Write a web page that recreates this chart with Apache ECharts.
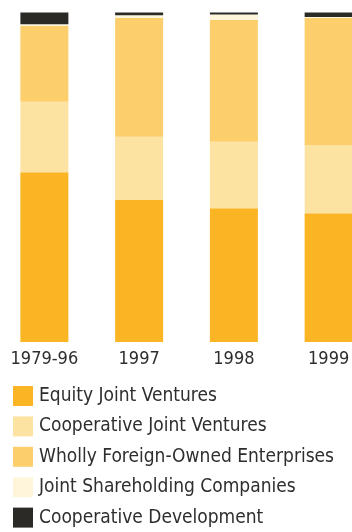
<!DOCTYPE html>
<html>
<head>
<meta charset="utf-8">
<style>
  html, body { margin: 0; padding: 0; background: #ffffff; overflow: hidden; }
  #chart { position: absolute; left: -3px; top: 0; width: 379px; height: 532px; }
</style>
<script src="https://cdn.jsdelivr.net/npm/echarts@6/dist/echarts.min.js"></script>
</head>
<body>
<div id="chart"></div>
<script>
// Share of foreign investment by type of enterprise (%)
const periods = ['1979-96', '1997', '1998', '1999'];

const equityJV          = [51.5, 43.1, 40.6, 39.1];
const cooperativeJV     = [21.4, 19.2, 20.2, 20.5];
const whollyForeign     = [23.0, 36.0, 36.9, 38.7];
const jointShareholding = [0.5, 0.9, 1.7, 0.3];
const coopDevelopment   = [3.6, 0.8, 0.6, 1.4];

const seriesNames = [
  'Equity Joint Ventures',
  'Cooperative Joint Ventures',
  'Wholly Foreign-Owned Enterprises',
  'Joint Shareholding Companies',
  'Cooperative Development'
];
const seriesColors = ['#fbb424', '#fde3a2', '#fcce6c', '#fef5da', '#2b2a26'];
const seriesValues = [equityJV, cooperativeJV, whollyForeign, jointShareholding, coopDevelopment];

const FONT = '"DejaVu Sans Condensed", "Liberation Sans Narrow", "Liberation Sans", sans-serif';

const chart = echarts.init(document.getElementById('chart'), null, { renderer: 'canvas' });

chart.setOption({
  backgroundColor: '#ffffff',
  animation: false,
  grid: { left: 0, right: 0, top: 12.5, bottom: 190 },
  xAxis: {
    type: 'category',
    data: periods,
    axisLine: { show: false },
    axisTick: { show: false },
    axisLabel: {
      margin: 8,
      color: '#2e2e2e',
      fontFamily: FONT,
      fontSize: 18
    }
  },
  yAxis: {
    type: 'value',
    min: 0,
    max: 100,
    show: false
  },
  legend: {
    orient: 'vertical',
    left: 16,
    top: 386,
    padding: 0,
    itemWidth: 20,
    itemHeight: 20,
    itemGap: 10.4,
    icon: 'rect',
    selectedMode: false,
    data: seriesNames,
    textStyle: {
      color: '#2e2e2e',
      fontFamily: FONT,
      fontSize: 19,
      lineHeight: 20,
      padding: [0, 0, 0, 1]
    }
  },
  series: seriesNames.map((name, i) => ({
    name: name,
    type: 'bar',
    stack: 'share',
    barWidth: 48,
    data: seriesValues[i],
    itemStyle: { color: seriesColors[i] }
  }))
});
</script>
</body>
</html>
